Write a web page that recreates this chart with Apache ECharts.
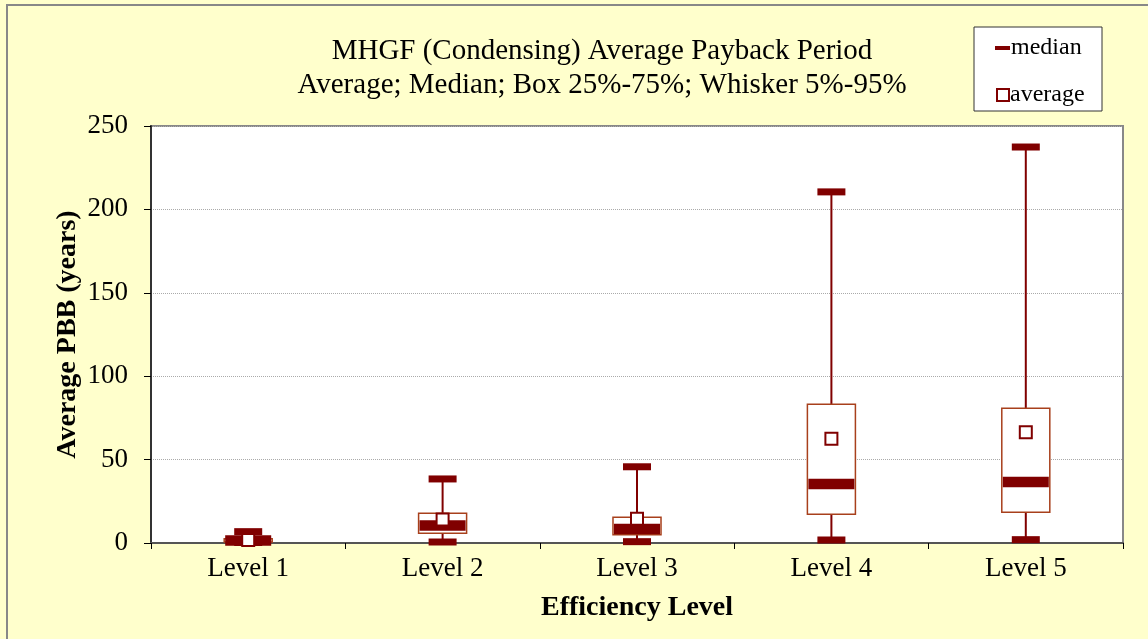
<!DOCTYPE html>
<html>
<head>
<meta charset="utf-8">
<title>MHGF (Condensing) Average Payback Period</title>
<script src="https://cdn.jsdelivr.net/npm/echarts@6/dist/echarts.min.js"></script>
<style>
    html, body { margin: 0; padding: 0; background: #ffffcc; }
    #chart { width: 1148px; height: 639px; }
</style>
</head>
<body>
<div id="chart"></div>
<script>
// values (years)
var categories = ['Level 1', 'Level 2', 'Level 3', 'Level 4', 'Level 5'];
var p5 = [0.3, 0.6, 0.8, 1.8, 2.0];
var q1 = [0.6, 5.8, 5.0, 17.2, 18.4];
var median = [1.5, 10.5, 8.4, 35.4, 36.6];
var q3 = [2.6, 17.8, 15.4, 83.2, 80.8];
var p95 = [6.8, 38.4, 45.7, 210.5, 237.4];
var average = [1.8, 14.1, 14.5, 62.5, 66.4];

var serif = 'Liberation Serif';
var dark = '#800000';

var boxData = categories.map(function (c, i) {
    return [i, p5[i], q1[i], median[i], q3[i], p95[i]];
});

// whisker + box + thick median bar + caps
function renderBox(params, api) {
    var x = api.value(0);
    var low = api.coord([x, api.value(1)]);
    var bq1 = api.coord([x, api.value(2)]);
    var med = api.coord([x, api.value(3)]);
    var bq3 = api.coord([x, api.value(4)]);
    var high = api.coord([x, api.value(5)]);
    var band = api.size([1, 0])[0];
    var boxW = band * 0.247;
    var capW = band * 0.144;
    var cx = low[0];
    return {
        type: 'group',
        children: [
            { type: 'line', shape: { x1: cx, y1: low[1], x2: cx, y2: high[1] },
              style: { stroke: dark, lineWidth: 2 } },
            { type: 'rect', shape: { x: cx - boxW / 2, y: bq3[1], width: boxW, height: bq1[1] - bq3[1] },
              style: { fill: '#fff', stroke: '#a8401c', lineWidth: 1.5 } },
            { type: 'rect', shape: { x: cx - boxW / 2 + 1, y: med[1] - 5.3, width: boxW - 2, height: 10.6 },
              style: { fill: dark } },
            { type: 'rect', shape: { x: cx - capW / 2, y: high[1] - 3.5, width: capW, height: 7 },
              style: { fill: dark } },
            { type: 'rect', shape: { x: cx - capW / 2, y: low[1] - 3.5, width: capW, height: 7 },
              style: { fill: dark } }
        ]
    };
}

var chart = echarts.init(document.getElementById('chart'));
chart.setOption({
    backgroundColor: '#ffffcc',
    animation: false,
    title: {
        text: 'MHGF (Condensing) Average Payback Period\nAverage; Median; Box 25%-75%; Whisker 5%-95%',
        left: 597,
        top: 29,
        textAlign: 'center',
        textStyle: { fontFamily: serif, fontSize: 29, fontWeight: 'normal', color: '#000', lineHeight: 34 }
    },
    graphic: [
        { type: 'rect', shape: { x: 7, y: 5, width: 1170, height: 680 },
          style: { fill: 'none', stroke: '#888', lineWidth: 2 }, silent: true },
        { type: 'rect', shape: { x: 974, y: 27, width: 128, height: 84 },
          style: { fill: '#fff', stroke: '#333', lineWidth: 1 }, silent: true, z: 0 }
    ],
    legend: [
        {
            data: [{ name: 'median', icon: 'rect' }],
            left: 990, top: 31,
            itemWidth: 15, itemHeight: 4,
            textStyle: { fontFamily: serif, fontSize: 24, color: '#000', padding: [0, 0, 0, -4] },
            selectedMode: false, z: 5
        },
        {
            data: [{ name: 'average', icon: 'rect' }],
            left: 991, top: 78,
            itemWidth: 12, itemHeight: 12,
            textStyle: { fontFamily: serif, fontSize: 24, color: '#000', padding: [0, 0, 0, -4] },
            selectedMode: false, z: 5
        }
    ],
    grid: {
        left: 151, right: 25, top: 126, bottom: 96,
        show: true, backgroundColor: '#fff', borderColor: '#888', borderWidth: 2
    },
    xAxis: {
        type: 'category',
        data: categories,
        name: 'Efficiency Level',
        nameLocation: 'middle',
        nameGap: 51,
        nameMoveOverlap: false,
        nameTextStyle: { fontFamily: serif, fontSize: 28, fontWeight: 'bold', color: '#000' },
        axisLine: { lineStyle: { color: '#555', width: 2 } },
        axisTick: { show: true, length: 6, lineStyle: { color: '#000' } },
        axisLabel: { fontFamily: serif, fontSize: 27, color: '#000', margin: 12 },
        splitLine: { show: false }
    },
    yAxis: {
        type: 'value',
        min: 0, max: 250, interval: 50,
        name: 'Average PBB (years)',
        nameLocation: 'middle',
        nameGap: 69,
        nameMoveOverlap: false,
        nameTextStyle: { fontFamily: serif, fontSize: 28, fontWeight: 'bold', color: '#000' },
        axisLine: { show: true, lineStyle: { color: '#333', width: 2 } },
        axisTick: { show: true, length: 7, lineStyle: { color: '#000' } },
        axisLabel: { fontFamily: serif, fontSize: 27, color: '#000', margin: 23 },
        splitLine: { show: true, lineStyle: { color: '#aaa', type: 'dotted', width: 1 } }
    },
    series: [
        {
            name: 'median',
            type: 'custom',
            renderItem: renderBox,
            data: boxData,
            itemStyle: { color: dark },
            clip: false,
            z: 3
        },
        {
            name: 'average',
            type: 'scatter',
            data: average.map(function (v, i) { return [i, v]; }),
            symbol: 'rect',
            symbolSize: 12,
            itemStyle: { color: '#fff', borderColor: dark, borderWidth: 2, opacity: 1 },
            z: 4
        }
    ]
});
</script>
</body>
</html>
